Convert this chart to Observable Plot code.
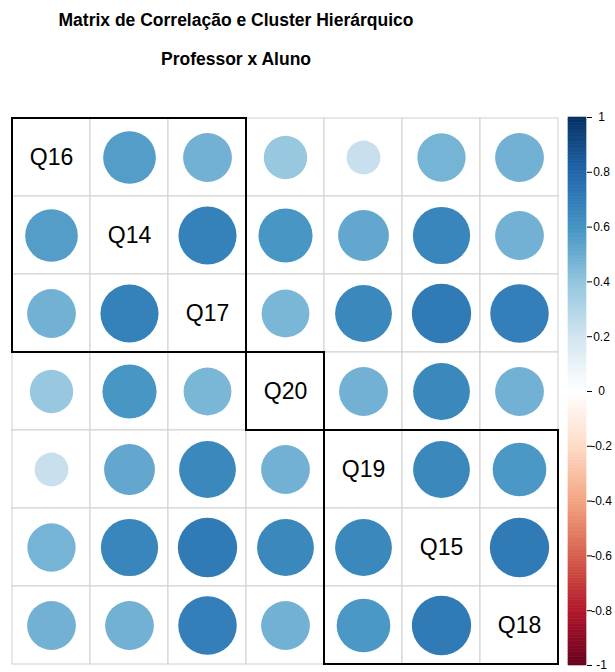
<!DOCTYPE html>
<html><head><meta charset="utf-8">
<script src="https://cdn.jsdelivr.net/npm/d3@7"></script>
<script src="https://cdn.jsdelivr.net/npm/@observablehq/plot@0.6"></script>
<style>
body{margin:0;background:#fff;font-family:"Liberation Sans",Arial,sans-serif;}
#wrap{position:relative;width:615px;height:672px;overflow:hidden;background:#fff;}
#head{position:relative;height:100px;}
.t{position:absolute;left:0;width:472px;text-align:center;font-weight:bold;font-size:17.5px;color:#000;line-height:normal;white-space:nowrap;}
#main{position:absolute;left:0;top:100px;}
#bar{position:absolute;left:559px;top:100px;}
</style></head><body>
<div id="wrap">
<div id="head"><div class="t" style="top:10px">Matrix de Correlação e Cluster Hierárquico</div><div class="t" style="top:49px">Professor x Aluno</div></div>
<div id="main"></div><div id="bar"></div>
</div>
<script>
// variables in hierarchical-cluster order
const variables = ["Q16","Q14","Q17","Q20","Q19","Q15","Q18"];
// correlation matrix rows (same order)
const rowQ16 = [1.00, 0.56, 0.48, 0.38, 0.23, 0.47, 0.48];
const rowQ14 = [0.56, 1.00, 0.68, 0.59, 0.52, 0.66, 0.48];
const rowQ17 = [0.48, 0.68, 1.00, 0.46, 0.65, 0.71, 0.69];
const rowQ20 = [0.38, 0.59, 0.46, 1.00, 0.48, 0.65, 0.48];
const rowQ19 = [0.23, 0.52, 0.65, 0.48, 1.00, 0.65, 0.58];
const rowQ15 = [0.47, 0.66, 0.71, 0.65, 0.65, 1.00, 0.71];
const rowQ18 = [0.48, 0.48, 0.69, 0.48, 0.58, 0.71, 1.00];
const corrRows = [rowQ16, rowQ14, rowQ17, rowQ20, rowQ19, rowQ15, rowQ18];
// clusters (first and last variable of each block)
const clusterFrom = ["Q16","Q20","Q19"];
const clusterTo   = ["Q17","Q20","Q18"];
// colour legend
const legendTicks = [1, 0.8, 0.6, 0.4, 0.2, 0, -0.2, -0.4, -0.6, -0.8, -1];
const paletteStops = [-1, -0.8, -0.6, -0.4, -0.2, 0, 0.2, 0.4, 0.6, 0.8, 1];
const palette = ["#67001F","#B2182B","#D6604D","#F4A582","#FDDBC7","#FFFFFF","#D1E5F0","#92C5DE","#4393C3","#2166AC","#053061"];

const cells = [];
variables.forEach((rv, i) => variables.forEach((cv, j) => cells.push({row: rv, col: cv, value: corrRows[i][j]})));
const clusters = clusterFrom.map((f, i) => ({from: f, to: clusterTo[i]}));

const colorScale = {type: "linear", domain: paletteStops, range: palette, interpolate: "rgb"};
const font = "'Liberation Sans', Arial, sans-serif";
const gridW = 548;

const main = Plot.plot({
  width: 615, height: 572,
  marginLeft: 11, marginRight: 56, marginTop: 17, marginBottom: 7,
  x: {type: "band", domain: variables, padding: 0, axis: null},
  y: {type: "band", domain: variables, padding: 0, axis: null},
  color: colorScale,
  r: {type: "sqrt", domain: [0, 1], range: [0, 0.45 * gridW / variables.length]},
  style: {fontFamily: font, background: "white", overflow: "visible"},
  marks: [
    Plot.cell(cells, {x: "col", y: "row", fill: "white", stroke: "#cfcfcf", strokeWidth: 1, inset: 0}),
    Plot.dot(cells.filter(d => d.row !== d.col), {x: "col", y: "row", r: d => Math.abs(d.value), fill: "value"}),
    Plot.text(variables, {x: d => d, y: d => d, text: d => d, fontSize: 23, fill: "black"}),
    Plot.rect(clusters, {x1: "from", x2: "to", y1: "from", y2: "to", fill: "none", stroke: "black", strokeWidth: 2, inset: 0})
  ]
});
document.getElementById("main").appendChild(main);

const barBands = d3.range(200).map(i => ({lo: -1 + i * 0.01, hi: -1 + (i + 1) * 0.01, mid: -1 + (i + 0.5) * 0.01}));
const bar = Plot.plot({
  width: 56, height: 572,
  marginTop: 17, marginBottom: 7, marginLeft: 9, marginRight: 29,
  y: {domain: [-1, 1], label: null},
  color: colorScale,
  style: {fontFamily: font, background: "white", fontSize: "12px"},
  marks: [
    Plot.rect(barBands, {y1: "lo", y2: "hi", fill: "mid", stroke: "mid", strokeWidth: 0.6}),
    Plot.axisY({anchor: "right", ticks: legendTicks, tickSize: 5, tickPadding: 10, textAnchor: "middle", fontSize: 12, color: "black", label: null, tickFormat: d => String(+d.toFixed(1))})
  ]
});
document.getElementById("bar").appendChild(bar);
</script>
</body></html>
